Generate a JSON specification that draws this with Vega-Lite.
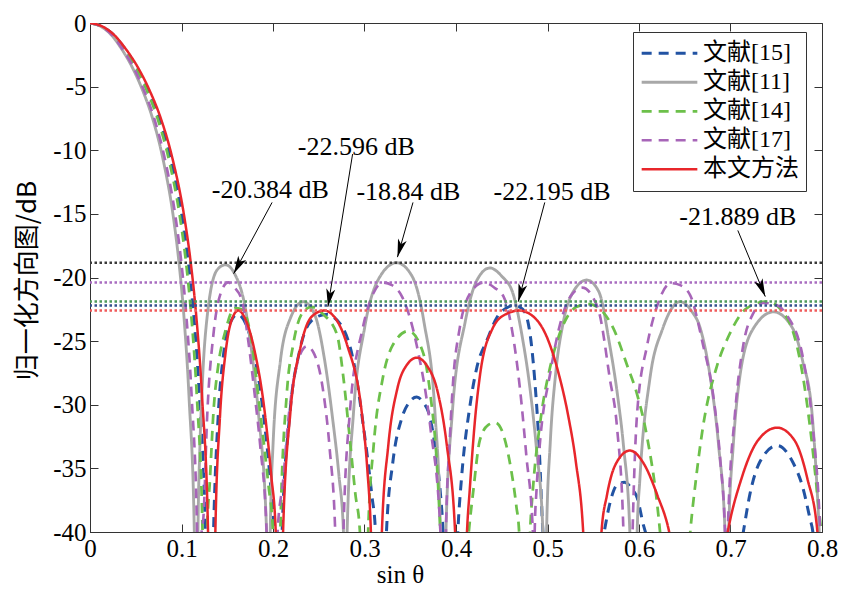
{
  "$schema": "https://vega.github.io/schema/vega-lite/v6.json",
  "width": 732,
  "height": 509,
  "autosize": {"type": "none"},
  "padding": {"left": 90, "top": 23, "right": 44, "bottom": 72},
  "background": "white",
  "config": {
    "view": {"stroke": "#333", "strokeWidth": 1},
    "font": "'Liberation Serif', 'Times New Roman', serif",
    "axis": {"grid": false, "tickSize": -8, "tickColor": "#333", "domainColor": "#333", "labelFont": "'Liberation Serif', 'Times New Roman', serif", "labelFontSize": 25, "labelColor": "#000", "labelFlush": false, "labelOverlap": false, "labelExpr": "'' + datum.value"},
    "legend": {"orient": "none", "legendX": 543, "legendY": 9, "symbolType": "stroke", "symbolSize": 3100, "symbolStrokeWidth": 3, "clipHeight": 28.5, "labelFont": "'Liberation Serif', 'Times New Roman', 'Noto Sans CJK SC', serif", "labelFontSize": 24, "labelColor": "#000", "strokeColor": "#333", "fillColor": "white", "padding": 7, "labelOffset": 4, "rowPadding": 0, "labelLimit": 200}
  },
  "datasets": {
    "curves": [
      {"s":"文献[15]","x":0,"y":0},{"s":"文献[15]","x":0.0126,"y":-0.25},{"s":"文献[15]","x":0.0252,"y":-0.9},{"s":"文献[15]","x":0.0378,"y":-2},{"s":"文献[15]","x":0.0504,"y":-3.4},{"s":"文献[15]","x":0.063,"y":-5.2},{"s":"文献[15]","x":0.0756,"y":-7.5},{"s":"文献[15]","x":0.0882,"y":-10.7},{"s":"文献[15]","x":0.1008,"y":-15.3},{"s":"文献[15]","x":0.1071,"y":-18.6},{"s":"文献[15]","x":0.1134,"y":-23},{"s":"文献[15]","x":0.1197,"y":-29.5},{"s":"文献[15]","x":0.126,"y":-40},{"s":"文献[15]","x":0.13,"y":-60},
      {"s":"文献[15]","x":0.135,"y":-40},{"s":"文献[15]","x":0.14,"y":-31},{"s":"文献[15]","x":0.146,"y":-26},{"s":"文献[15]","x":0.153,"y":-23.6},{"s":"文献[15]","x":0.161,"y":-22.9},{"s":"文献[15]","x":0.17,"y":-23.6},{"s":"文献[15]","x":0.18,"y":-26.2},{"s":"文献[15]","x":0.19,"y":-31},{"s":"文献[15]","x":0.197,"y":-36},{"s":"文献[15]","x":0.201,"y":-40},{"s":"文献[15]","x":0.205,"y":-60},
      {"s":"文献[15]","x":0.21,"y":-40},{"s":"文献[15]","x":0.218,"y":-31},{"s":"文献[15]","x":0.229,"y":-25.8},{"s":"文献[15]","x":0.242,"y":-23.4},{"s":"文献[15]","x":0.258,"y":-22.9},{"s":"文献[15]","x":0.273,"y":-23.6},{"s":"文献[15]","x":0.288,"y":-26.6},{"s":"文献[15]","x":0.299,"y":-31.8},{"s":"文献[15]","x":0.308,"y":-37.1},{"s":"文献[15]","x":0.312,"y":-40},{"s":"文献[15]","x":0.318,"y":-60},
      {"s":"文献[15]","x":0.324,"y":-40},{"s":"文献[15]","x":0.331,"y":-34.5},{"s":"文献[15]","x":0.341,"y":-31},{"s":"文献[15]","x":0.349,"y":-29.8},{"s":"文献[15]","x":0.357,"y":-29.4},{"s":"文献[15]","x":0.365,"y":-29.9},{"s":"文献[15]","x":0.37,"y":-30.6},{"s":"文献[15]","x":0.377,"y":-33.2},{"s":"文献[15]","x":0.383,"y":-37},{"s":"文献[15]","x":0.386,"y":-40},{"s":"文献[15]","x":0.394,"y":-60},
      {"s":"文献[15]","x":0.402,"y":-40},{"s":"文献[15]","x":0.406,"y":-35.8},{"s":"文献[15]","x":0.415,"y":-30.2},{"s":"文献[15]","x":0.423,"y":-27},{"s":"文献[15]","x":0.434,"y":-24.9},{"s":"文献[15]","x":0.445,"y":-23.1},{"s":"文献[15]","x":0.455,"y":-22.4},{"s":"文献[15]","x":0.464,"y":-22.195},{"s":"文献[15]","x":0.473,"y":-22.5},{"s":"文献[15]","x":0.48,"y":-24},{"s":"文献[15]","x":0.486,"y":-28},{"s":"文献[15]","x":0.491,"y":-33.5},{"s":"文献[15]","x":0.495,"y":-40},{"s":"文献[15]","x":0.53,"y":-60},
      {"s":"文献[15]","x":0.562,"y":-40},{"s":"文献[15]","x":0.568,"y":-37.8},{"s":"文献[15]","x":0.576,"y":-36.3},{"s":"文献[15]","x":0.584,"y":-36.1},{"s":"文献[15]","x":0.592,"y":-36.6},{"s":"文献[15]","x":0.598,"y":-37.3},{"s":"文献[15]","x":0.605,"y":-39.5},{"s":"文献[15]","x":0.607,"y":-40},{"s":"文献[15]","x":0.66,"y":-60},
      {"s":"文献[15]","x":0.714,"y":-40},{"s":"文献[15]","x":0.721,"y":-37.1},{"s":"文献[15]","x":0.732,"y":-34.5},{"s":"文献[15]","x":0.751,"y":-33.2},{"s":"文献[15]","x":0.768,"y":-34.5},{"s":"文献[15]","x":0.779,"y":-36.5},{"s":"文献[15]","x":0.787,"y":-39},{"s":"文献[15]","x":0.79,"y":-40},{"s":"文献[15]","x":0.8,"y":-55},

      {"s":"文献[11]","x":0,"y":0},{"s":"文献[11]","x":0.0114,"y":-0.25},{"s":"文献[11]","x":0.0228,"y":-0.9},{"s":"文献[11]","x":0.0342,"y":-2},{"s":"文献[11]","x":0.0456,"y":-3.4},{"s":"文献[11]","x":0.057,"y":-5.2},{"s":"文献[11]","x":0.0684,"y":-7.5},{"s":"文献[11]","x":0.0798,"y":-10.7},{"s":"文献[11]","x":0.0912,"y":-15.3},{"s":"文献[11]","x":0.0969,"y":-18.6},{"s":"文献[11]","x":0.1026,"y":-23},{"s":"文献[11]","x":0.1083,"y":-29.5},{"s":"文献[11]","x":0.114,"y":-40},{"s":"文献[11]","x":0.116,"y":-60},
      {"s":"文献[11]","x":0.118,"y":-40},{"s":"文献[11]","x":0.12,"y":-33.6},{"s":"文献[11]","x":0.123,"y":-28},{"s":"文献[11]","x":0.128,"y":-23.1},{"s":"文献[11]","x":0.139,"y":-19.4},{"s":"文献[11]","x":0.148,"y":-19},{"s":"文献[11]","x":0.158,"y":-19.7},{"s":"文献[11]","x":0.17,"y":-22.5},{"s":"文献[11]","x":0.177,"y":-26},{"s":"文献[11]","x":0.184,"y":-30.6},{"s":"文献[11]","x":0.193,"y":-40},{"s":"文献[11]","x":0.195,"y":-60},
      {"s":"文献[11]","x":0.197,"y":-40},{"s":"文献[11]","x":0.2,"y":-33.2},{"s":"文献[11]","x":0.208,"y":-26.6},{"s":"文献[11]","x":0.219,"y":-23.2},{"s":"文献[11]","x":0.233,"y":-21.9},{"s":"文献[11]","x":0.246,"y":-23},{"s":"文献[11]","x":0.256,"y":-26.3},{"s":"文献[11]","x":0.265,"y":-31},{"s":"文献[11]","x":0.272,"y":-35.5},{"s":"文献[11]","x":0.277,"y":-40},{"s":"文献[11]","x":0.279,"y":-60},
      {"s":"文献[11]","x":0.281,"y":-40},{"s":"文献[11]","x":0.288,"y":-30.6},{"s":"文献[11]","x":0.3,"y":-24},{"s":"文献[11]","x":0.318,"y":-19.8},{"s":"文献[11]","x":0.335,"y":-18.84},{"s":"文献[11]","x":0.352,"y":-19.9},{"s":"文献[11]","x":0.365,"y":-23.5},{"s":"文献[11]","x":0.377,"y":-30.6},{"s":"文献[11]","x":0.383,"y":-40},{"s":"文献[11]","x":0.386,"y":-60},
      {"s":"文献[11]","x":0.389,"y":-40},{"s":"文献[11]","x":0.396,"y":-30.6},{"s":"文献[11]","x":0.41,"y":-23.5},{"s":"文献[11]","x":0.423,"y":-20.2},{"s":"文献[11]","x":0.437,"y":-19.25},{"s":"文献[11]","x":0.45,"y":-19.9},{"s":"文献[11]","x":0.462,"y":-21.2},{"s":"文献[11]","x":0.472,"y":-24.5},{"s":"文献[11]","x":0.481,"y":-28.8},{"s":"文献[11]","x":0.488,"y":-33.5},{"s":"文献[11]","x":0.495,"y":-40},{"s":"文献[11]","x":0.497,"y":-60},
      {"s":"文献[11]","x":0.499,"y":-40},{"s":"文献[11]","x":0.503,"y":-33},{"s":"文献[11]","x":0.509,"y":-27.5},{"s":"文献[11]","x":0.517,"y":-23.6},{"s":"文献[11]","x":0.53,"y":-20.9},{"s":"文献[11]","x":0.543,"y":-20.2},{"s":"文献[11]","x":0.556,"y":-21.1},{"s":"文献[11]","x":0.568,"y":-25.3},{"s":"文献[11]","x":0.577,"y":-29.5},{"s":"文献[11]","x":0.583,"y":-33.2},{"s":"文献[11]","x":0.59,"y":-40},{"s":"文献[11]","x":0.594,"y":-60},
      {"s":"文献[11]","x":0.598,"y":-40},{"s":"文献[11]","x":0.601,"y":-35.8},{"s":"文献[11]","x":0.612,"y":-27.9},{"s":"文献[11]","x":0.626,"y":-24},{"s":"文献[11]","x":0.645,"y":-21.9},{"s":"文献[11]","x":0.657,"y":-22.6},{"s":"文献[11]","x":0.667,"y":-24},{"s":"文献[11]","x":0.678,"y":-27.9},{"s":"文献[11]","x":0.687,"y":-33.2},{"s":"文献[11]","x":0.694,"y":-40},{"s":"文献[11]","x":0.696,"y":-60},
      {"s":"文献[11]","x":0.698,"y":-40},{"s":"文献[11]","x":0.703,"y":-33.2},{"s":"文献[11]","x":0.71,"y":-27.9},{"s":"文献[11]","x":0.725,"y":-24},{"s":"文献[11]","x":0.747,"y":-22.7},{"s":"文献[11]","x":0.768,"y":-24},{"s":"文献[11]","x":0.779,"y":-26.6},{"s":"文献[11]","x":0.789,"y":-30.6},{"s":"文献[11]","x":0.794,"y":-35.8},{"s":"文献[11]","x":0.797,"y":-40},{"s":"文献[11]","x":0.8,"y":-46},

      {"s":"文献[14]","x":0,"y":0},{"s":"文献[14]","x":0.0123,"y":-0.25},{"s":"文献[14]","x":0.0246,"y":-0.9},{"s":"文献[14]","x":0.0369,"y":-2},{"s":"文献[14]","x":0.0492,"y":-3.4},{"s":"文献[14]","x":0.0615,"y":-5.2},{"s":"文献[14]","x":0.0738,"y":-7.5},{"s":"文献[14]","x":0.0861,"y":-10.7},{"s":"文献[14]","x":0.0984,"y":-15.3},{"s":"文献[14]","x":0.1046,"y":-18.6},{"s":"文献[14]","x":0.1107,"y":-23},{"s":"文献[14]","x":0.1169,"y":-29.5},{"s":"文献[14]","x":0.123,"y":-40},{"s":"文献[14]","x":0.126,"y":-60},
      {"s":"文献[14]","x":0.128,"y":-40},{"s":"文献[14]","x":0.131,"y":-36},{"s":"文献[14]","x":0.135,"y":-30.5},{"s":"文献[14]","x":0.14,"y":-27},{"s":"文献[14]","x":0.148,"y":-24.2},{"s":"文献[14]","x":0.158,"y":-22.4},{"s":"文献[14]","x":0.166,"y":-22.5},{"s":"文献[14]","x":0.175,"y":-24.3},{"s":"文献[14]","x":0.186,"y":-30.6},{"s":"文献[14]","x":0.195,"y":-36.3},{"s":"文献[14]","x":0.2,"y":-40},{"s":"文献[14]","x":0.204,"y":-60},
      {"s":"文献[14]","x":0.208,"y":-40},{"s":"文献[14]","x":0.215,"y":-29.2},{"s":"文献[14]","x":0.222,"y":-25.3},{"s":"文献[14]","x":0.232,"y":-22.8},{"s":"文献[14]","x":0.242,"y":-22.3},{"s":"文献[14]","x":0.255,"y":-22.9},{"s":"文献[14]","x":0.27,"y":-24.5},{"s":"文献[14]","x":0.277,"y":-27.9},{"s":"文献[14]","x":0.283,"y":-32},{"s":"文献[14]","x":0.29,"y":-37},{"s":"文献[14]","x":0.295,"y":-40},{"s":"文献[14]","x":0.3,"y":-60},
      {"s":"文献[14]","x":0.304,"y":-40},{"s":"文献[14]","x":0.31,"y":-33.2},{"s":"文献[14]","x":0.32,"y":-27.9},{"s":"文献[14]","x":0.331,"y":-25.3},{"s":"文献[14]","x":0.348,"y":-24.2},{"s":"文献[14]","x":0.364,"y":-25.9},{"s":"文献[14]","x":0.372,"y":-29.2},{"s":"文献[14]","x":0.379,"y":-34.5},{"s":"文献[14]","x":0.383,"y":-40},{"s":"文献[14]","x":0.398,"y":-60},
      {"s":"文献[14]","x":0.414,"y":-40},{"s":"文献[14]","x":0.419,"y":-36.7},{"s":"文献[14]","x":0.426,"y":-32.8},{"s":"文献[14]","x":0.435,"y":-31.6},{"s":"文献[14]","x":0.443,"y":-31.4},{"s":"文献[14]","x":0.452,"y":-32.4},{"s":"文献[14]","x":0.459,"y":-34.6},{"s":"文献[14]","x":0.466,"y":-38},{"s":"文献[14]","x":0.469,"y":-40},{"s":"文献[14]","x":0.475,"y":-60},
      {"s":"文献[14]","x":0.481,"y":-40},{"s":"文献[14]","x":0.484,"y":-36.7},{"s":"文献[14]","x":0.492,"y":-31.4},{"s":"文献[14]","x":0.503,"y":-27},{"s":"文献[14]","x":0.511,"y":-24.9},{"s":"文献[14]","x":0.52,"y":-23.3},{"s":"文献[14]","x":0.532,"y":-22.3},{"s":"文献[14]","x":0.545,"y":-22.1},{"s":"文献[14]","x":0.556,"y":-22.4},{"s":"文献[14]","x":0.572,"y":-24},{"s":"文献[14]","x":0.587,"y":-26.9},{"s":"文献[14]","x":0.598,"y":-29.2},{"s":"文献[14]","x":0.609,"y":-32.6},{"s":"文献[14]","x":0.62,"y":-37.9},{"s":"文献[14]","x":0.623,"y":-40},{"s":"文献[14]","x":0.64,"y":-60},
      {"s":"文献[14]","x":0.656,"y":-40},{"s":"文献[14]","x":0.662,"y":-36},{"s":"文献[14]","x":0.67,"y":-31.7},{"s":"文献[14]","x":0.685,"y":-27},{"s":"文献[14]","x":0.698,"y":-24.6},{"s":"文献[14]","x":0.718,"y":-22.4},{"s":"文献[14]","x":0.74,"y":-21.889},{"s":"文献[14]","x":0.762,"y":-23.2},{"s":"文献[14]","x":0.779,"y":-27.7},{"s":"文献[14]","x":0.789,"y":-33},{"s":"文献[14]","x":0.797,"y":-38.5},{"s":"文献[14]","x":0.8,"y":-40.5},

      {"s":"文献[17]","x":0,"y":0},{"s":"文献[17]","x":0.0117,"y":-0.25},{"s":"文献[17]","x":0.0234,"y":-0.9},{"s":"文献[17]","x":0.0351,"y":-2},{"s":"文献[17]","x":0.0468,"y":-3.4},{"s":"文献[17]","x":0.0585,"y":-5.2},{"s":"文献[17]","x":0.0702,"y":-7.5},{"s":"文献[17]","x":0.0819,"y":-10.7},{"s":"文献[17]","x":0.0936,"y":-15.3},{"s":"文献[17]","x":0.0995,"y":-18.6},{"s":"文献[17]","x":0.1053,"y":-23},{"s":"文献[17]","x":0.1112,"y":-29.5},{"s":"文献[17]","x":0.117,"y":-40},{"s":"文献[17]","x":0.12,"y":-60},
      {"s":"文献[17]","x":0.122,"y":-40},{"s":"文献[17]","x":0.124,"y":-38.8},{"s":"文献[17]","x":0.128,"y":-31},{"s":"文献[17]","x":0.135,"y":-24.4},{"s":"文献[17]","x":0.143,"y":-21.2},{"s":"文献[17]","x":0.151,"y":-20.384},{"s":"文献[17]","x":0.158,"y":-20.8},{"s":"文献[17]","x":0.166,"y":-21.8},{"s":"文献[17]","x":0.173,"y":-25},{"s":"文献[17]","x":0.18,"y":-29.2},{"s":"文献[17]","x":0.186,"y":-33.2},{"s":"文献[17]","x":0.193,"y":-40},{"s":"文献[17]","x":0.199,"y":-60},
      {"s":"文献[17]","x":0.205,"y":-40},{"s":"文献[17]","x":0.211,"y":-36},{"s":"文献[17]","x":0.217,"y":-31},{"s":"文献[17]","x":0.222,"y":-28.3},{"s":"文献[17]","x":0.23,"y":-26},{"s":"文献[17]","x":0.237,"y":-25.4},{"s":"文献[17]","x":0.245,"y":-26},{"s":"文献[17]","x":0.255,"y":-29},{"s":"文献[17]","x":0.262,"y":-33.5},{"s":"文献[17]","x":0.268,"y":-40},{"s":"文献[17]","x":0.272,"y":-60},
      {"s":"文献[17]","x":0.277,"y":-40},{"s":"文献[17]","x":0.284,"y":-30.6},{"s":"文献[17]","x":0.298,"y":-24},{"s":"文献[17]","x":0.31,"y":-21.2},{"s":"文献[17]","x":0.32,"y":-20.4},{"s":"文献[17]","x":0.33,"y":-20.6},{"s":"文献[17]","x":0.341,"y":-21.5},{"s":"文献[17]","x":0.357,"y":-25.3},{"s":"文献[17]","x":0.372,"y":-31.8},{"s":"文献[17]","x":0.383,"y":-40},{"s":"文献[17]","x":0.386,"y":-60},
      {"s":"文献[17]","x":0.389,"y":-40},{"s":"文献[17]","x":0.393,"y":-33},{"s":"文献[17]","x":0.397,"y":-28},{"s":"文献[17]","x":0.404,"y":-24},{"s":"文献[17]","x":0.415,"y":-21.3},{"s":"文献[17]","x":0.43,"y":-20.4},{"s":"文献[17]","x":0.442,"y":-20.8},{"s":"文献[17]","x":0.452,"y":-21.5},{"s":"文献[17]","x":0.463,"y":-24.9},{"s":"文献[17]","x":0.47,"y":-28.8},{"s":"文献[17]","x":0.477,"y":-34.1},{"s":"文献[17]","x":0.484,"y":-40},{"s":"文献[17]","x":0.485,"y":-60},
      {"s":"文献[17]","x":0.486,"y":-40},{"s":"文献[17]","x":0.488,"y":-36.7},{"s":"文献[17]","x":0.492,"y":-32.8},{"s":"文献[17]","x":0.503,"y":-27.5},{"s":"文献[17]","x":0.514,"y":-23.6},{"s":"文献[17]","x":0.525,"y":-21.5},{"s":"文献[17]","x":0.538,"y":-20.8},{"s":"文献[17]","x":0.55,"y":-21.6},{"s":"文献[17]","x":0.557,"y":-22.9},{"s":"文献[17]","x":0.568,"y":-27.9},{"s":"文献[17]","x":0.576,"y":-31.8},{"s":"文献[17]","x":0.583,"y":-40},{"s":"文献[17]","x":0.588,"y":-60},
      {"s":"文献[17]","x":0.593,"y":-40},{"s":"文献[17]","x":0.598,"y":-30.6},{"s":"文献[17]","x":0.609,"y":-25.3},{"s":"文献[17]","x":0.62,"y":-22.2},{"s":"文献[17]","x":0.635,"y":-20.45},{"s":"文献[17]","x":0.645,"y":-20.6},{"s":"文献[17]","x":0.656,"y":-21.4},{"s":"文献[17]","x":0.67,"y":-25.3},{"s":"文献[17]","x":0.681,"y":-29.2},{"s":"文献[17]","x":0.689,"y":-34.5},{"s":"文献[17]","x":0.694,"y":-40},{"s":"文献[17]","x":0.696,"y":-60},
      {"s":"文献[17]","x":0.697,"y":-40},{"s":"文献[17]","x":0.705,"y":-30.6},{"s":"文献[17]","x":0.714,"y":-25.3},{"s":"文献[17]","x":0.725,"y":-22.8},{"s":"文献[17]","x":0.736,"y":-22},{"s":"文献[17]","x":0.748,"y":-22.1},{"s":"文献[17]","x":0.761,"y":-22.9},{"s":"文献[17]","x":0.78,"y":-26.6},{"s":"文献[17]","x":0.79,"y":-31.8},{"s":"文献[17]","x":0.798,"y":-40},{"s":"文献[17]","x":0.8,"y":-44},

      {"s":"本文方法","x":0,"y":0},{"s":"本文方法","x":0.0129,"y":-0.25},{"s":"本文方法","x":0.0258,"y":-0.9},{"s":"本文方法","x":0.0387,"y":-2},{"s":"本文方法","x":0.0516,"y":-3.4},{"s":"本文方法","x":0.0645,"y":-5.2},{"s":"本文方法","x":0.0774,"y":-7.5},{"s":"本文方法","x":0.0903,"y":-10.7},{"s":"本文方法","x":0.1032,"y":-15.3},{"s":"本文方法","x":0.1097,"y":-18.6},{"s":"本文方法","x":0.1161,"y":-23},{"s":"本文方法","x":0.1226,"y":-29.5},{"s":"本文方法","x":0.129,"y":-40},{"s":"本文方法","x":0.133,"y":-60},
      {"s":"本文方法","x":0.137,"y":-40},{"s":"本文方法","x":0.142,"y":-31},{"s":"本文方法","x":0.148,"y":-26},{"s":"本文方法","x":0.155,"y":-23.3},{"s":"本文方法","x":0.162,"y":-22.596},{"s":"本文方法","x":0.17,"y":-23.3},{"s":"本文方法","x":0.18,"y":-25.8},{"s":"本文方法","x":0.191,"y":-30.6},{"s":"本文方法","x":0.198,"y":-35.5},{"s":"本文方法","x":0.203,"y":-40},{"s":"本文方法","x":0.207,"y":-60},
      {"s":"本文方法","x":0.211,"y":-40},{"s":"本文方法","x":0.219,"y":-30.6},{"s":"本文方法","x":0.23,"y":-25.5},{"s":"本文方法","x":0.242,"y":-23.1},{"s":"本文方法","x":0.256,"y":-22.596},{"s":"本文方法","x":0.27,"y":-23.4},{"s":"本文方法","x":0.281,"y":-25.3},{"s":"本文方法","x":0.297,"y":-30.6},{"s":"本文方法","x":0.303,"y":-35},{"s":"本文方法","x":0.307,"y":-40},{"s":"本文方法","x":0.313,"y":-60},
      {"s":"本文方法","x":0.319,"y":-40},{"s":"本文方法","x":0.326,"y":-33.2},{"s":"本文方法","x":0.336,"y":-28.7},{"s":"本文方法","x":0.347,"y":-26.8},{"s":"本文方法","x":0.357,"y":-26.3},{"s":"本文方法","x":0.368,"y":-26.9},{"s":"本文方法","x":0.38,"y":-29},{"s":"本文方法","x":0.39,"y":-33.2},{"s":"本文方法","x":0.399,"y":-40},{"s":"本文方法","x":0.405,"y":-60},
      {"s":"本文方法","x":0.412,"y":-40},{"s":"本文方法","x":0.415,"y":-36.7},{"s":"本文方法","x":0.421,"y":-31},{"s":"本文方法","x":0.426,"y":-27.8},{"s":"本文方法","x":0.44,"y":-24},{"s":"本文方法","x":0.454,"y":-22.9},{"s":"本文方法","x":0.469,"y":-22.6},{"s":"本文方法","x":0.485,"y":-23.1},{"s":"本文方法","x":0.5,"y":-24.8},{"s":"本文方法","x":0.512,"y":-27.5},{"s":"本文方法","x":0.523,"y":-31},{"s":"本文方法","x":0.531,"y":-34.5},{"s":"本文方法","x":0.539,"y":-40},{"s":"本文方法","x":0.549,"y":-60},
      {"s":"本文方法","x":0.559,"y":-40},{"s":"本文方法","x":0.565,"y":-37.1},{"s":"本文方法","x":0.575,"y":-34.6},{"s":"本文方法","x":0.59,"y":-33.6},{"s":"本文方法","x":0.605,"y":-34.6},{"s":"本文方法","x":0.62,"y":-37.1},{"s":"本文方法","x":0.633,"y":-40},{"s":"本文方法","x":0.665,"y":-60},
      {"s":"本文方法","x":0.697,"y":-40},{"s":"本文方法","x":0.712,"y":-35.8},{"s":"本文方法","x":0.73,"y":-32.8},{"s":"本文方法","x":0.751,"y":-31.8},{"s":"本文方法","x":0.77,"y":-32.8},{"s":"本文方法","x":0.784,"y":-35.8},{"s":"本文方法","x":0.795,"y":-40},{"s":"本文方法","x":0.8,"y":-50}
    ],
    "refs": [
      {"s":"文献[11]","v":-18.84},
      {"s":"文献[17]","v":-20.384},
      {"s":"文献[14]","v":-21.889},
      {"s":"文献[15]","v":-22.195},
      {"s":"本文方法","v":-22.596}
    ],
    "notes": [
      {"t":"-20.384 dB","tx":0.197,"ty":-13.1,"ax":0.199,"ay":-14.1,"bx":0.157,"by":-19.7},
      {"t":"-22.596 dB","tx":0.291,"ty":-9.74,"ax":0.287,"ay":-10.3,"bx":0.26,"by":-22.3},
      {"t":"-18.84 dB","tx":0.348,"ty":-13.3,"ax":0.353,"ay":-14.1,"bx":0.336,"by":-18.4},
      {"t":"-22.195 dB","tx":0.505,"ty":-13.3,"ax":0.497,"ay":-14.1,"bx":0.468,"by":-21.9},
      {"t":"-21.889 dB","tx":0.708,"ty":-15.25,"ax":0.708,"ay":-16.3,"bx":0.738,"by":-21.5}
    ]
  },
  "resolve": {"axis": {"x": "independent", "y": "independent"}},
  "layer": [
    {
      "data": {"name": "curves"},
      "mark": {"type": "line", "clip": true, "interpolate": "monotone"},
      "encoding": {
        "x": {"field": "x", "type": "quantitative", "scale": {"domain": [0, 0.8], "nice": false, "zero": false},
          "axis": {"values": [0, 0.1, 0.2, 0.3, 0.4, 0.5, 0.6, 0.7, 0.8], "labelPadding": 12, "title": "sin θ", "titleFont": "'Liberation Serif', 'Times New Roman', serif", "titleFontSize": 25, "titleFontWeight": "normal", "titleColor": "#000", "titleX": 310, "titleY": 30}},
        "y": {"field": "y", "type": "quantitative", "scale": {"domain": [-40, 0], "nice": false},
          "axis": {"values": [0, -5, -10, -15, -20, -25, -30, -35, -40], "labelPadding": 12, "title": "归一化方向图/dB", "titleFont": "Noto Sans CJK SC", "titleFontSize": 26, "titleFontWeight": "normal", "titleColor": "#000", "titleX": -50, "titleY": 257}},
        "color": {"field": "s", "type": "nominal",
          "scale": {"domain": ["文献[15]", "文献[11]", "文献[14]", "文献[17]", "本文方法"], "range": ["#2253a3", "#a8a8a8", "#6cc04a", "#a765b8", "#e8262b"]},
          "legend": {"title": null}},
        "strokeDash": {"field": "s", "type": "nominal",
          "scale": {"domain": ["文献[15]", "文献[11]", "文献[14]", "文献[17]", "本文方法"], "range": [[10, 7], [1, 0], [10, 7], [10, 7], [1, 0]]},
          "legend": {"title": null}},
        "strokeWidth": {"field": "s", "type": "ordinal",
          "scale": {"domain": ["文献[15]", "文献[11]", "文献[14]", "文献[17]", "本文方法"], "range": [3, 2.5, 3, 3, 3.5]},
          "legend": null}
      }
    },
    {
      "data": {"name": "refs"},
      "mark": {"type": "rule", "strokeDash": [2.5, 2.5], "strokeWidth": 2.5},
      "encoding": {
        "y": {"field": "v", "type": "quantitative", "axis": null},
        "stroke": {"field": "s", "type": "nominal",
          "scale": {"domain": ["文献[15]", "文献[11]", "文献[14]", "文献[17]", "本文方法"], "range": ["#34508c", "#3a3a3a", "#4f9a5a", "#a86cc0", "#f05a5a"]},
          "legend": null}
      }
    },
    {
      "data": {"name": "notes"},
      "mark": {"type": "rule", "color": "black", "strokeWidth": 1},
      "encoding": {
        "x": {"field": "ax", "type": "quantitative", "axis": {"orient": "top", "labels": false, "title": null, "domain": false, "values": [0, 0.1, 0.2, 0.3, 0.4, 0.5, 0.6, 0.7, 0.8]}},
        "y": {"field": "ay", "type": "quantitative", "axis": {"orient": "right", "labels": false, "title": null, "domain": false, "values": [0, -5, -10, -15, -20, -25, -30, -35, -40]}},
        "x2": {"field": "bx"},
        "y2": {"field": "by"}
      }
    },
    {
      "data": {"name": "notes"},
      "transform": [{"calculate": "atan2(-(datum.bx - datum.ax) * 915, (datum.ay - datum.by) * 12.725) * 180 / PI", "as": "ang"}],
      "mark": {"type": "point", "shape": "M0,0L-0.5,-2L0,-1.5L0.5,-2Z", "filled": true, "color": "black", "size": 324, "opacity": 1},
      "encoding": {
        "x": {"field": "bx", "type": "quantitative", "axis": null},
        "y": {"field": "by", "type": "quantitative", "axis": null},
        "angle": {"field": "ang", "type": "quantitative", "scale": null}
      }
    },
    {
      "data": {"name": "notes"},
      "mark": {"type": "text", "font": "'Liberation Serif', 'Times New Roman', serif", "fontSize": 26, "color": "black", "align": "center", "baseline": "middle"},
      "encoding": {
        "x": {"field": "tx", "type": "quantitative", "axis": null},
        "y": {"field": "ty", "type": "quantitative", "axis": null},
        "text": {"field": "t"}
      }
    }
  ]
}
